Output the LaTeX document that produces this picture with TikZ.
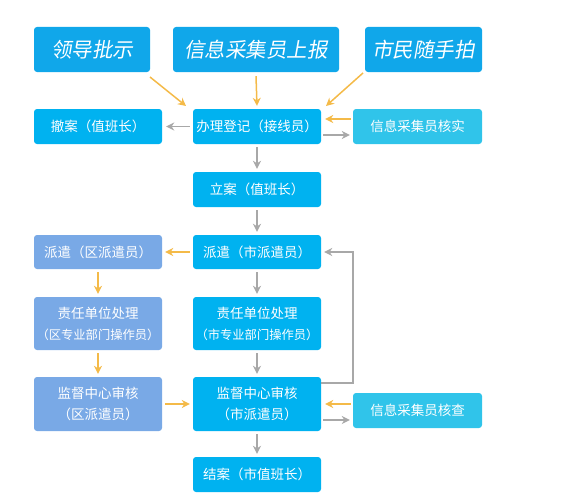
\documentclass[tikz,border=0pt]{standalone}
\usepackage{fontspec}
\setmainfont{Noto Sans CJK SC}
\newfontfamily\cjkit[FakeSlant=0.18]{Noto Sans CJK SC}
\usetikzlibrary{arrows.meta}
\definecolor{topblue}{HTML}{10A7EA}
\definecolor{mainblue}{HTML}{00B2F0}
\definecolor{lightblue}{HTML}{30C4EA}
\definecolor{steel}{HTML}{79A9E6}
\definecolor{orng}{HTML}{F4BA48}
\definecolor{gry}{HTML}{A8A8A8}
\newcommand{\sublinefont}{\fontsize{12.3}{21}\selectfont}
\begin{document}
\begin{tikzpicture}[x=1pt,y=-1pt,
  box/.style={rounded corners=3pt, text=white, inner sep=0pt, align=center, font=\fontsize{13.5}{21}\selectfont},
  topbox/.style={box, fill=topblue, font=\cjkit\fontsize{20.5}{24}\selectfont},
  mbox/.style={box, fill=mainblue},
  lbox/.style={box, fill=lightblue},
  sbox/.style={box, fill=steel},
  oarr/.style={draw=orng, line width=1.5pt, -{Stealth[length=8pt,width=8pt]}},
  garr/.style={draw=gry, line width=1.5pt, -{Stealth[length=8pt,width=8pt]}}
]
\useasboundingbox (0,0) rectangle (586,495);
\newcommand{\bx}[6]{\node[#1, minimum width={#4-#2}, minimum height={#5-#3}] (#6) at ({(#2+#4)/2},{(#3+#5)/2})}
\bx{topbox}{34}{27}{150}{72}{ld} {领导批示};
\bx{topbox}{173}{27}{339}{72}{xx} {信息采集员上报};
\bx{topbox}{365}{27}{482}{72}{sm} {市民随手拍};
\bx{mbox}{34}{109}{162}{144}{ca} {撤案（值班长）};
\bx{mbox}{193}{109}{321}{144}{bl} {办理登记（接线员）};
\bx{lbox}{353}{109}{482}{144}{hs} {信息采集员核实};
\bx{mbox}{193}{172}{321}{207}{la} {立案（值班长）};
\bx{sbox}{34}{235}{162}{269}{pq} {派遣（区派遣员）};
\bx{mbox}{193}{235}{321}{269}{ps} {派遣（市派遣员）};
\bx{sbox}{34}{297}{162}{350}{zq} {责任单位处理\\{\sublinefont（区专业部门操作员）}};
\bx{mbox}{193}{297}{321}{350}{zs} {责任单位处理\\{\sublinefont（市专业部门操作员）}};
\bx{sbox}{34}{377}{162}{431}{jq} {监督中心审核\\（区派遣员）};
\bx{mbox}{193}{377}{321}{431}{js} {监督中心审核\\（市派遣员）};
\bx{lbox}{353}{393}{482}{428}{hc} {信息采集员核查};
\bx{mbox}{193}{457}{321}{492}{ja} {结案（市值班长）};
% top inputs
\coordinate (a1) at (150,77); \coordinate (a2) at (186,106);
\coordinate (b1) at (363,73); \coordinate (b2) at (326,106);
\draw[oarr] (a1) -- (a2);
\draw[oarr] ([yshift=-4pt]xx.south) -- ([yshift=3pt]bl.north);
\draw[oarr] (b1) -- (b2);
% row 2
\draw[garr] ([xshift=-3pt]bl.west) -- ([xshift=4pt]ca.east);
\draw[oarr] ([xshift=-2pt,yshift=7.5pt]hs.west) -- ([xshift=4pt,yshift=7.5pt]bl.east);
\draw[garr] ([xshift=2pt,yshift=-8.5pt]bl.east) -- ([xshift=-3pt,yshift=-8.5pt]hs.west);
% vertical chain
\draw[garr] ([yshift=-3pt]bl.south) -- ([yshift=3pt]la.north);
\draw[garr] ([yshift=-3pt]la.south) -- ([yshift=3pt]ps.north);
\draw[oarr] ([xshift=-3pt]ps.west) -- ([xshift=3pt]pq.east);
\draw[oarr] ([yshift=-3pt]pq.south) -- ([yshift=3pt]zq.north);
\draw[garr] ([yshift=-3pt]ps.south) -- ([yshift=3pt]zs.north);
\draw[oarr] ([yshift=-3pt]zq.south) -- ([yshift=3pt]jq.north);
\draw[garr] ([yshift=-3pt]zs.south) -- ([yshift=3pt]js.north);
\draw[oarr] ([xshift=3pt]jq.east) -- ([xshift=-3pt]js.west);
\draw[oarr] ([xshift=-2pt,yshift=6.5pt]hc.west) -- ([xshift=4pt]js.east);
\draw[garr] ([xshift=2pt,yshift=-16pt]js.east) -- ([xshift=-3pt,yshift=-9.5pt]hc.west);
\draw[garr] ([yshift=-3pt]js.south) -- ([yshift=3pt]ja.north);
% loop back
\draw[garr] ([yshift=21pt]js.east) -| (353,252) -- ([xshift=3pt]ps.east);
\end{tikzpicture}
\end{document}
